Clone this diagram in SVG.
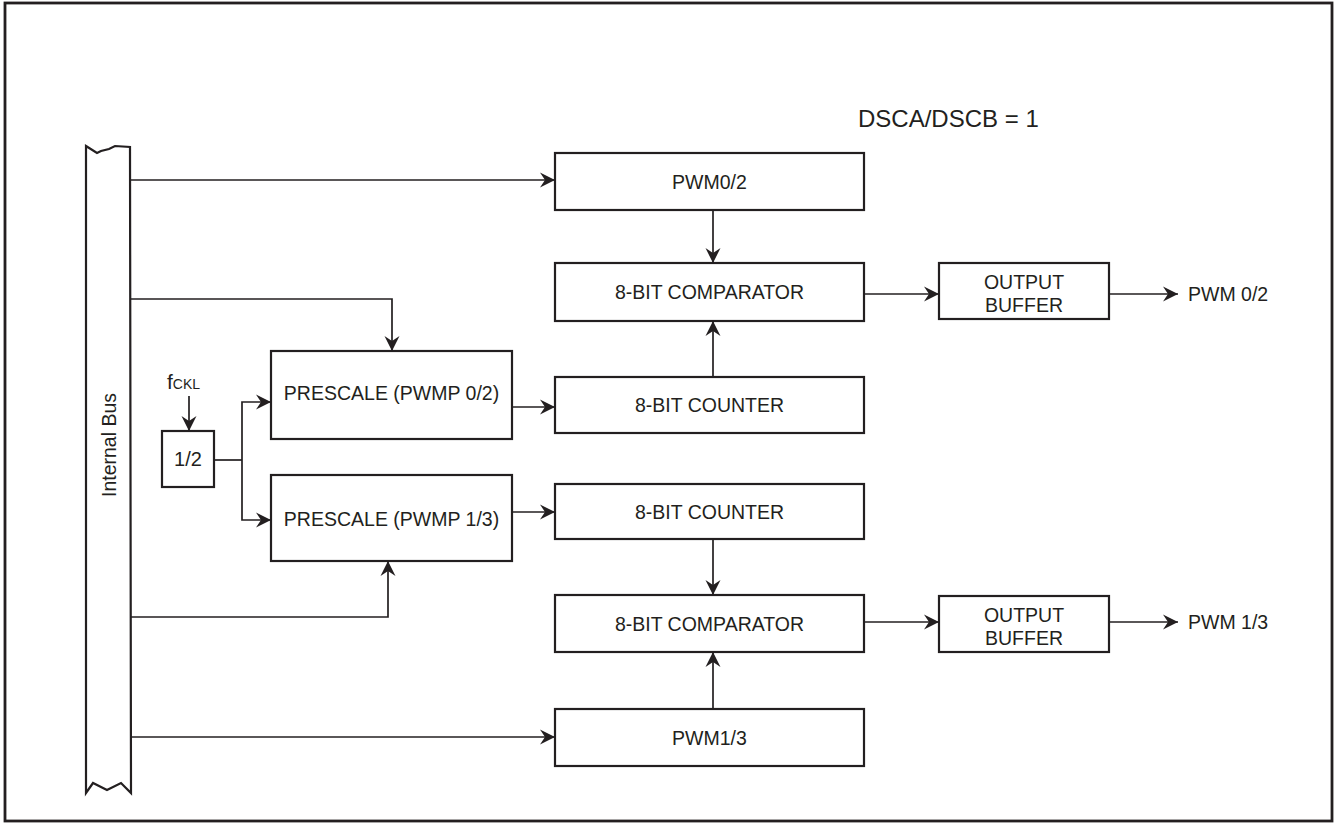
<svg xmlns="http://www.w3.org/2000/svg" width="1335" height="823" viewBox="0 0 1335 823">
<style>
.box{fill:#fff;stroke:#231f20;stroke-width:2.2}
.ln{fill:none;stroke:#231f20;stroke-width:1.7}
.t{font-family:"Liberation Sans",Arial,sans-serif;font-size:19.5px;fill:#231f20;text-anchor:middle;dominant-baseline:central}
.tl{font-family:"Liberation Sans",Arial,sans-serif;font-size:19.5px;fill:#231f20;dominant-baseline:central}
</style>
<defs>
<marker id="ah" markerUnits="userSpaceOnUse" markerWidth="18" markerHeight="18" viewBox="-16 -9 18 18" refX="0" refY="0" orient="auto">
<path d="M0,0 L-15,-7.5 L-10,0 L-15,7.5 Z" fill="#231f20"/>
</marker>
</defs>
<rect x="5" y="3" width="1327" height="818" fill="#fff" stroke="#231f20" stroke-width="2.8"/>
<text x="858" y="127" style="font-family:'Liberation Sans',Arial,sans-serif;font-size:24px;fill:#231f20">DSCA/DSCB = 1</text>

<g id="bus">
<path class="box" d="M86,146 L97,153 L101,151 L109,149 L115,146 L130,147 L131,793 L121,783 L107,790 L93,783 L86,793 Z"/>
<text class="t" transform="translate(109,445) rotate(-90)">Internal Bus</text>
</g>
<g id="pwm02"><rect class="box" x="555" y="153" width="309" height="57"/><text class="t" x="709.5" y="181.5">PWM0/2</text></g>
<g id="cmp1"><rect class="box" x="555" y="263" width="309" height="58"/><text class="t" x="709.5" y="292">8-BIT COMPARATOR</text></g>
<g id="cnt1"><rect class="box" x="555" y="377" width="309" height="56"/><text class="t" x="709.5" y="405">8-BIT COUNTER</text></g>
<g id="cnt2"><rect class="box" x="555" y="484" width="309" height="55"/><text class="t" x="709.5" y="511.5">8-BIT COUNTER</text></g>
<g id="cmp2"><rect class="box" x="555" y="595" width="309" height="57"/><text class="t" x="709.5" y="623.5">8-BIT COMPARATOR</text></g>
<g id="pwm13"><rect class="box" x="555" y="709" width="309" height="57"/><text class="t" x="709.5" y="737.5">PWM1/3</text></g>
<g id="pre02"><rect class="box" x="271" y="351" width="241" height="88"/><text class="t" x="391.5" y="393">PRESCALE (PWMP 0/2)</text></g>
<g id="pre13"><rect class="box" x="271" y="475" width="241" height="86"/><text class="t" x="391.5" y="519">PRESCALE (PWMP 1/3)</text></g>
<g id="div2"><rect class="box" x="162" y="431" width="52" height="56"/><text class="t" x="188" y="459" style="font-size:20px">1/2</text></g>
<g id="fckl"><text x="167" y="389" style="font-family:'Liberation Sans',Arial,sans-serif;font-size:21px;fill:#231f20">f<tspan style="font-size:14px">CKL</tspan></text></g>
<g id="buf1"><rect class="box" x="939" y="263" width="170" height="56"/><text class="t" x="1024" y="282">OUTPUT</text><text class="t" x="1024" y="305">BUFFER</text></g>
<g id="buf2"><rect class="box" x="939" y="596" width="170" height="56"/><text class="t" x="1024" y="615">OUTPUT</text><text class="t" x="1024" y="638">BUFFER</text></g>
<g id="out1"><text class="tl" x="1188" y="294">PWM 0/2</text></g>
<g id="out2"><text class="tl" x="1188" y="622">PWM 1/3</text></g>

<g id="connectors">
<path class="ln" d="M131,180 H555" marker-end="url(#ah)"/>
<path class="ln" d="M131,299 H392 V351" marker-end="url(#ah)"/>
<path class="ln" d="M131,617 H388 V561" marker-end="url(#ah)"/>
<path class="ln" d="M131,737 H555" marker-end="url(#ah)"/>
<path class="ln" d="M713,210 V263" marker-end="url(#ah)"/>
<path class="ln" d="M713,377 V321" marker-end="url(#ah)"/>
<path class="ln" d="M512,407 H555" marker-end="url(#ah)"/>
<path class="ln" d="M512,512 H555" marker-end="url(#ah)"/>
<path class="ln" d="M713,539 V595" marker-end="url(#ah)"/>
<path class="ln" d="M713,709 V652" marker-end="url(#ah)"/>
<path class="ln" d="M864,294 H939" marker-end="url(#ah)"/>
<path class="ln" d="M864,622 H939" marker-end="url(#ah)"/>
<path class="ln" d="M1109,294 H1178" marker-end="url(#ah)"/>
<path class="ln" d="M1109,622 H1178" marker-end="url(#ah)"/>
<path class="ln" d="M189,396 V431" marker-end="url(#ah)"/>
<path class="ln" d="M214,460 H242"/>
<path class="ln" d="M242,460 V402 H271" marker-end="url(#ah)"/>
<path class="ln" d="M242,460 V520 H271" marker-end="url(#ah)"/>
</g>
</svg>
